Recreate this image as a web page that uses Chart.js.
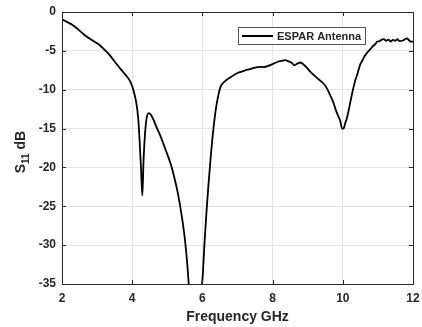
<!DOCTYPE html>
<html>
<head>
<meta charset="utf-8">
<script src="https://cdn.jsdelivr.net/npm/chart.js@4.4.1/dist/chart.umd.min.js"></script>
<style>
  html, body { margin: 0; padding: 0; background: #fff; }
  canvas { display: block; }
</style>
</head>
<body>
<canvas id="chart" width="422" height="327"></canvas>
<script>
// --- Data ---
const seriesLabel = "ESPAR Antenna";
const freqGHz = [
  2.00, 2.15, 2.31, 2.45, 2.64, 2.85, 3.07, 3.20, 3.36, 3.52, 3.69, 3.83, 3.95, 4.05, 4.12, 4.17,
  4.21, 4.25, 4.29, 4.32, 4.36, 4.41, 4.47, 4.53, 4.60, 4.70, 4.80, 4.90, 5.00, 5.10, 5.20, 5.30,
  5.40, 5.50, 5.57, 5.62, 5.80, 5.96, 6.00, 6.07, 6.12, 6.17, 6.24, 6.31, 6.38, 6.45, 6.52, 6.60,
  6.70, 6.80, 6.90, 7.00, 7.10, 7.26, 7.40, 7.50, 7.64, 7.75, 7.83, 7.95, 8.05, 8.15, 8.25, 8.36,
  8.45, 8.55, 8.62, 8.70, 8.79, 8.88, 8.98, 9.08, 9.17, 9.27, 9.36, 9.45, 9.52, 9.60, 9.67, 9.74,
  9.80, 9.87, 9.92, 9.98, 10.02, 10.07, 10.12, 10.17, 10.21, 10.26, 10.31, 10.37, 10.42, 10.50, 10.55, 10.62,
  10.70, 10.78, 10.86, 10.93, 10.98, 11.05, 11.11, 11.17, 11.24, 11.30, 11.36, 11.43, 11.50, 11.55, 11.62, 11.69,
  11.76, 11.83, 11.88, 11.93, 12.00
];
const s11dB = [
  -0.95, -1.3, -1.7, -2.2, -2.95, -3.6, -4.25, -4.8, -5.55, -6.5, -7.45, -8.2, -9.0, -10.3, -11.8, -13.6,
  -16.5, -20.0, -23.6, -19.5, -16.0, -13.7, -13.0, -13.2, -13.8, -14.9, -15.9, -17.1, -18.3, -19.6, -21.3, -23.3,
  -25.9, -29.2, -32.5, -35.5, -42.0, -36.0, -34.5, -29.0, -25.5, -22.4, -18.5, -15.2, -12.6, -10.8, -9.6, -9.1,
  -8.7, -8.4, -8.1, -7.85, -7.7, -7.45, -7.3, -7.15, -7.05, -7.1, -7.0, -6.8, -6.6, -6.4, -6.3, -6.2,
  -6.35, -6.55, -6.85, -6.65, -6.5, -6.75, -7.2, -7.7, -8.1, -8.5, -8.85, -9.2, -9.6, -10.3, -11.0, -11.75,
  -12.6, -13.4, -13.9, -15.0, -15.0, -14.3, -13.6, -12.6, -11.7, -10.6, -9.6, -8.6, -7.9, -6.7, -6.3, -5.7,
  -5.2, -4.8, -4.4, -4.1, -3.8, -3.75, -3.55, -3.5, -3.7, -3.55, -3.8, -3.6, -3.7, -3.5, -3.75, -3.7,
  -3.55, -3.4, -3.6, -3.8, -3.8
];
const xTicks = [2, 4, 6, 8, 10, 12];
const yTicks = [0, -5, -10, -15, -20, -25, -30, -35];

const axisColor = '#262626';
const gridColor = '#e3e3e3';
const fontFamily = 'Arial, "Liberation Sans", sans-serif';

// --- Plugins: box, inward ticks, titles, legend ---
const frame = {
  id: 'frame',
  afterDraw(chart) {
    const { ctx, chartArea: a, scales } = chart;
    ctx.save();
    ctx.strokeStyle = axisColor;
    ctx.lineWidth = 1;
    ctx.beginPath();
    xTicks.forEach(v => {
      const px = Math.round(scales.x.getPixelForValue(v)) + 0.5;
      ctx.moveTo(px, a.bottom); ctx.lineTo(px, a.bottom - 4);
      ctx.moveTo(px, a.top); ctx.lineTo(px, a.top + 4);
    });
    yTicks.forEach(v => {
      const py = Math.round(scales.y.getPixelForValue(v)) + 0.5;
      ctx.moveTo(a.left, py); ctx.lineTo(a.left + 4, py);
      ctx.moveTo(a.right, py); ctx.lineTo(a.right - 4, py);
    });
    ctx.stroke();
    ctx.strokeRect(Math.round(a.left) + 0.5, Math.round(a.top) + 0.5,
                   Math.round(a.right - a.left), Math.round(a.bottom - a.top));

    // x title
    ctx.fillStyle = axisColor;
    ctx.font = 'bold 14px ' + fontFamily;
    ctx.textAlign = 'center';
    ctx.textBaseline = 'middle';
    ctx.fillText('Frequency GHz', (a.left + a.right) / 2, 317);

    // y title with subscript
    ctx.translate(20, (a.top + a.bottom) / 2 + 4);
    ctx.rotate(-Math.PI / 2);
    ctx.textAlign = 'left';
    ctx.textBaseline = 'alphabetic';
    const big = 'bold 14px ' + fontFamily, small = 'bold 10px ' + fontFamily;
    ctx.font = big; const wS = ctx.measureText('S').width, wD = ctx.measureText(' dB').width;
    ctx.font = small; const w11 = ctx.measureText('11').width;
    let x0 = -(wS + w11 + wD) / 2;
    ctx.font = big; ctx.fillText('S', x0, 5);
    ctx.font = small; ctx.fillText('11', x0 + wS, 9);
    ctx.font = big; ctx.fillText(' dB', x0 + wS + w11, 5);
    ctx.restore();

    // legend
    ctx.save();
    ctx.fillStyle = '#fff';
    ctx.fillRect(238, 27, 127, 17);
    ctx.strokeStyle = '#555';
    ctx.strokeRect(238.5, 27.5, 127, 17);
    ctx.strokeStyle = '#000';
    ctx.lineWidth = 2;
    ctx.beginPath(); ctx.moveTo(242, 36); ctx.lineTo(273, 36); ctx.stroke();
    ctx.fillStyle = axisColor;
    ctx.font = 'bold 11px ' + fontFamily;
    ctx.textBaseline = 'middle';
    ctx.fillText(chart.data.datasets[0].label, 277, 36.5);
    ctx.restore();
  }
};

new Chart(document.getElementById('chart'), {
  type: 'line',
  data: {
    datasets: [{
      label: seriesLabel,
      data: freqGHz.map((f, i) => ({ x: f, y: s11dB[i] })),
      borderColor: '#000',
      borderWidth: 1.8,
      pointRadius: 0,
      cubicInterpolationMode: 'monotone',
      fill: false
    }]
  },
  options: {
    responsive: false,
    animation: false,
    devicePixelRatio: 1,
    layout: { padding: { top: 12, right: 9, left: 0, bottom: 0 } },
    plugins: { legend: { display: false }, tooltip: { enabled: false } },
    scales: {
      x: {
        type: 'linear', min: 2, max: 12,
        afterBuildTicks: s => { s.ticks = xTicks.map(v => ({ value: v })); },
        afterFit: s => { s.height = 43; s.paddingLeft = 0; s.paddingRight = 0; },
        ticks: { autoSkip: false, maxRotation: 0, padding: 7, color: axisColor, font: { family: fontFamily, size: 12, weight: 'bold' } },
        grid: { color: gridColor, drawTicks: false },
        border: { display: false }
      },
      y: {
        min: -35, max: 0,
        afterBuildTicks: s => { s.ticks = yTicks.map(v => ({ value: v })); },
        afterFit: s => { s.width = 62; s.paddingTop = 0; s.paddingBottom = 0; },
        ticks: { autoSkip: false, padding: 6, color: axisColor, font: { family: fontFamily, size: 12, weight: 'bold' } },
        grid: { color: gridColor, drawTicks: false },
        border: { display: false }
      }
    }
  },
  plugins: [frame]
});
</script>
</body>
</html>
